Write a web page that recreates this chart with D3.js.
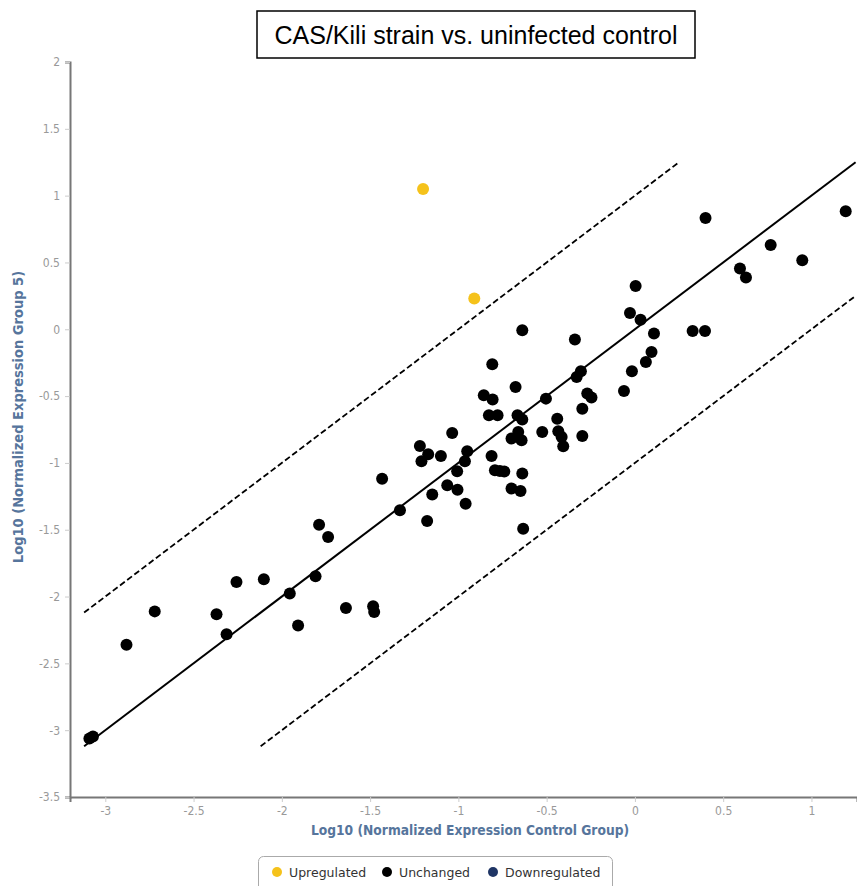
<!DOCTYPE html>
<html>
<head>
<meta charset="utf-8">
<script src="https://cdn.jsdelivr.net/npm/d3@7"></script>
<style>
  html, body { margin: 0; padding: 0; background: #fff; }
  svg { display: block; }
</style>
</head>
<body>
<svg id="chart" width="857" height="886"></svg>
<script>
// Log10 normalized expression: [control group, group 5]
const upregulated = [
  [-1.20, 1.05], [-0.91, 0.23]
];
const downregulated = [];
const unchanged = [
  [-0.028, 0.122], [0.032, 0.072], [0.108, -0.032], [0.094, -0.170], [0.062, -0.245],
  [-0.017, -0.314], [-0.062, -0.462], [-0.638, -0.007], [-0.340, -0.077], [-0.808, -0.262],
  [-0.676, -0.432], [-0.856, -0.494], [-0.806, -0.526], [-0.504, -0.519], [-0.330, -0.357],
  [-0.306, -0.314], [-0.270, -0.481], [-0.246, -0.511], [-0.298, -0.594], [-0.298, -0.799],
  [-0.440, -0.669], [-0.434, -0.763], [-0.415, -0.806], [-0.406, -0.876], [-0.525, -0.768],
  [-0.827, -0.644], [-0.778, -0.644], [-0.665, -0.644], [-0.638, -0.676], [-0.661, -0.768],
  [-0.699, -0.818], [-0.642, -0.831], [-1.035, -0.776], [-1.218, -0.873], [-1.171, -0.936],
  [-1.209, -0.988], [-1.099, -0.948], [-0.950, -0.913], [-0.963, -0.988], [-1.007, -1.063],
  [-1.063, -1.168], [-1.005, -1.200], [-1.148, -1.237], [-0.959, -1.305], [-1.177, -1.435],
  [-1.331, -1.355], [-1.432, -1.118], [-0.812, -0.948], [-0.793, -1.055], [-0.765, -1.060],
  [-0.740, -1.065], [-0.638, -1.080], [-0.699, -1.192], [-0.648, -1.210], [-0.633, -1.492],
  [-1.789, -1.462], [-1.738, -1.555], [-1.809, -1.849], [-1.955, -1.978], [-2.257, -1.891],
  [-2.102, -1.871], [-2.720, -2.111], [-2.370, -2.133], [-2.313, -2.283], [-2.880, -2.360],
  [-1.908, -2.216], [-1.637, -2.086], [-1.483, -2.073], [-1.477, -2.116], [-3.090, -3.062],
  [-3.070, -3.048],
  [0.400, 0.833], [1.194, 0.883], [0.769, 0.631], [0.948, 0.516], [0.595, 0.454],
  [0.629, 0.387], [0.004, 0.324], [0.327, -0.013], [0.397, -0.013]
];

// Axis ticks and labels
const xTicks = [-3, -2.5, -2, -1.5, -1, -0.5, 0, 0.5, 1];
const yTicks = [-3.5, -3, -2.5, -2, -1.5, -1, -0.5, 0, 0.5, 1, 1.5, 2];
const xDomain = [-3.2, 1.258];
const yDomain = [-3.5, 2];

// Reference lines: identity and ±1 log10 (10-fold) boundaries
const lineOffsets = [0, 1, -1];
const lineRange = [-3.12, 1.25];

const titleText = "CAS/Kili strain vs. uninfected control";
const xTitle = "Log10 (Normalized Expression Control Group)";
const yTitle = "Log10 (Normalized Expression Group 5)";
const legendItems = [
  { label: "Upregulated", color: "#f5c21b" },
  { label: "Unchanged", color: "#000000" },
  { label: "Downregulated", color: "#1f3565" }
];

const svg = d3.select("#chart");
const plot = { left: 70, right: 857, top: 62, bottom: 797 };

const x = d3.scaleLinear().domain(xDomain).range([plot.left, plot.right]);
const y = d3.scaleLinear().domain(yDomain).range([plot.bottom, plot.top]);

const tickFont = "'DejaVu Sans Condensed', 'DejaVu Sans', sans-serif";
const plain = d => String(d);

// Y axis
const yAxis = svg.append("g")
  .attr("transform", `translate(${plot.left},0)`)
  .call(d3.axisLeft(y).tickValues(yTicks).tickFormat(plain).tickSize(5).tickPadding(5));
yAxis.select(".domain").attr("stroke", "#777").attr("stroke-width", 2);
yAxis.selectAll(".tick line").attr("stroke", "#ccc");
yAxis.selectAll(".tick text")
  .attr("fill", "#999").style("font-family", tickFont).style("font-size", "12px");

// X axis
const xAxis = svg.append("g")
  .attr("transform", `translate(0,${plot.bottom})`)
  .call(d3.axisBottom(x).tickValues(xTicks).tickFormat(plain).tickSize(5).tickPadding(4));
xAxis.select(".domain").attr("stroke", "#777").attr("stroke-width", 2);
xAxis.selectAll(".tick line").attr("stroke", "#ccc");
xAxis.selectAll(".tick text")
  .attr("fill", "#999").style("font-family", tickFont).style("font-size", "12px");

// Axis titles
svg.append("text")
  .attr("x", 470).attr("y", 835)
  .attr("text-anchor", "middle")
  .attr("fill", "#56759c")
  .style("font-family", tickFont).style("font-size", "13.7px").style("font-weight", "bold")
  .text(xTitle);

svg.append("text")
  .attr("transform", `translate(23,417) rotate(-90)`)
  .attr("text-anchor", "middle")
  .attr("fill", "#56759c")
  .style("font-family", tickFont).style("font-size", "14.5px").style("font-weight", "bold")
  .text(yTitle);

// Reference lines
const lines = lineOffsets.map(o => {
  const x0 = Math.max(lineRange[0], lineRange[0] - o);
  const x1 = Math.min(lineRange[1], lineRange[1] - o);
  return { o, pts: [[x0, x0 + o], [x1, x1 + o]] };
});
svg.append("g").selectAll("line").data(lines).join("line")
  .attr("x1", d => x(d.pts[0][0])).attr("y1", d => y(d.pts[0][1]))
  .attr("x2", d => x(d.pts[1][0])).attr("y2", d => y(d.pts[1][1]))
  .attr("stroke", "#000")
  .attr("stroke-width", d => d.o === 0 ? 2 : 1.8)
  .attr("stroke-dasharray", d => d.o === 0 ? null : "6,3");

// Points
const pts = svg.append("g");
pts.selectAll("circle.unchanged").data(unchanged).join("circle")
  .attr("class", "unchanged")
  .attr("cx", d => x(d[0])).attr("cy", d => y(d[1])).attr("r", 6)
  .attr("fill", legendItems[1].color);
pts.selectAll("circle.up").data(upregulated).join("circle")
  .attr("class", "up")
  .attr("cx", d => x(d[0])).attr("cy", d => y(d[1])).attr("r", 6)
  .attr("fill", legendItems[0].color);
pts.selectAll("circle.down").data(downregulated).join("circle")
  .attr("class", "down")
  .attr("cx", d => x(d[0])).attr("cy", d => y(d[1])).attr("r", 6)
  .attr("fill", legendItems[2].color);

// Title box
const titleG = svg.append("g");
titleG.append("rect")
  .attr("x", 257).attr("y", 11).attr("width", 438).attr("height", 47)
  .attr("fill", "#fff").attr("stroke", "#000").attr("stroke-width", 1.5);
titleG.append("text")
  .attr("x", 476).attr("y", 44)
  .attr("text-anchor", "middle")
  .style("font-family", "'Liberation Sans', Arial, sans-serif").style("font-size", "25px")
  .attr("fill", "#000")
  .text(titleText);

// Legend
const legend = svg.append("g");
legend.append("rect")
  .attr("x", 258.5).attr("y", 856.5).attr("width", 354).attr("height", 36).attr("rx", 5)
  .attr("fill", "#fff").attr("stroke", "#aaa");
const legendX = [277, 387, 493];
const li = legend.selectAll("g.item").data(legendItems).join("g")
  .attr("class", "item")
  .attr("transform", (d, i) => `translate(${legendX[i]},872)`);
li.append("circle").attr("r", 5).attr("fill", d => d.color);
li.append("text")
  .attr("x", 12).attr("y", 4.5)
  .attr("fill", "#333")
  .style("font-family", "'DejaVu Sans', sans-serif").style("font-size", "12.5px")
  .text(d => d.label);
</script>
</body>
</html>
